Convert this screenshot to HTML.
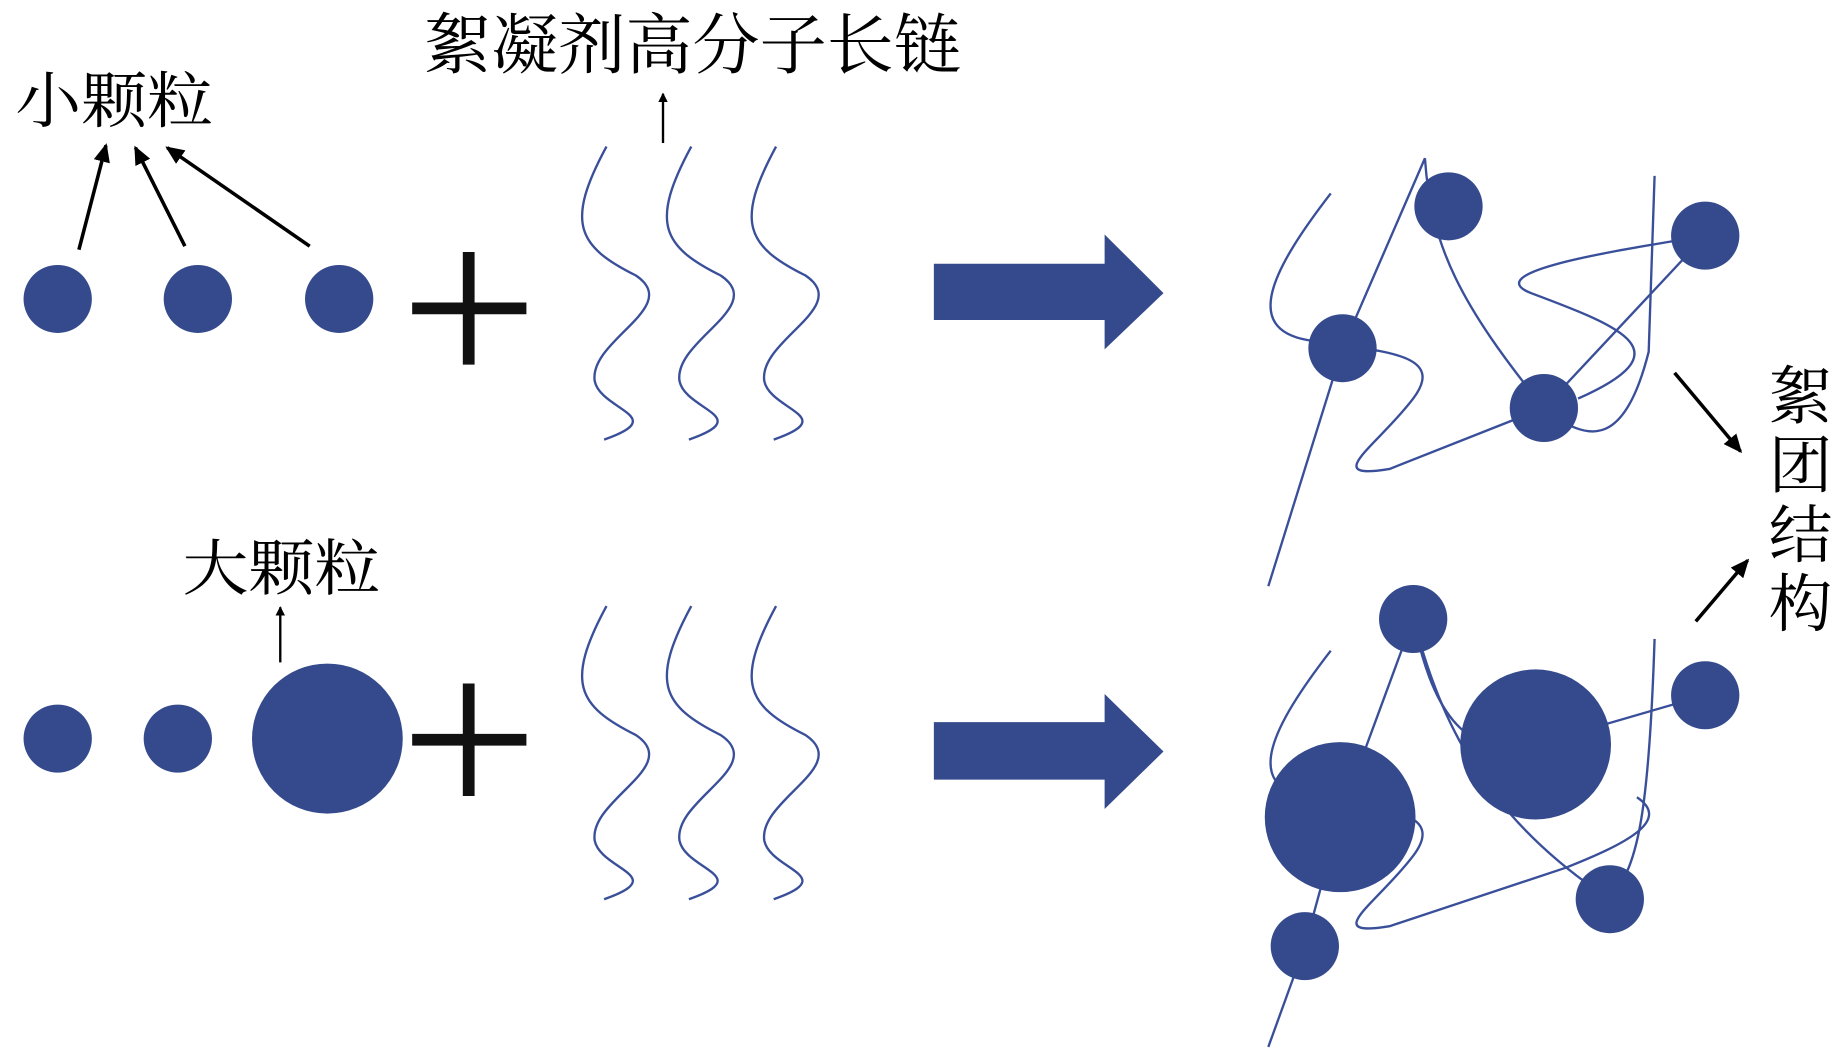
<!DOCTYPE html>
<html><head><meta charset="utf-8"><style>
html,body{margin:0;padding:0;background:#fff;}
svg{display:block}
text{font-family:"Liberation Serif","Noto Serif CJK SC","Noto Sans CJK SC",serif;fill:#000}
</style></head><body>
<svg width="1843" height="1061" viewBox="0 0 1565 905" preserveAspectRatio="none" xmlns="http://www.w3.org/2000/svg">
<defs>
<marker id="ah" markerWidth="8" markerHeight="8" refX="7" refY="4" orient="auto" markerUnits="userSpaceOnUse"><path d="M0,0 L8,4 L0,8 Z" fill="#000"/></marker>
<marker id="ah2" markerWidth="16" markerHeight="14" refX="14" refY="7" orient="auto" markerUnits="userSpaceOnUse"><path d="M0,0 L16,7 L0,14 Z" fill="#000"/></marker>
<g id="wave"><path d="M515,125 C480,190 490,210 540,235 C580,262 500,290 505,325 C510,350 570,355 513,375" fill="none" stroke="#3a4f9a" stroke-width="2"/></g>
</defs>
<g fill="#344a8c">
<circle cx="49" cy="255" r="29"/><circle cx="168" cy="255" r="29"/><circle cx="288" cy="255" r="29"/>
<circle cx="49" cy="630" r="29"/><circle cx="151" cy="630" r="29"/><circle cx="278" cy="630" r="64"/>
</g>
<g stroke="#111" stroke-width="10">
<line x1="350" y1="263" x2="447" y2="263"/><line x1="398" y1="215" x2="398" y2="311"/>
<line x1="350" y1="631" x2="447" y2="631"/><line x1="398" y1="583" x2="398" y2="679"/>
</g>
<text x="13" y="104" font-size="52" textLength="168" lengthAdjust="spacingAndGlyphs">小颗粒</text>
<text x="360" y="58" font-size="56" textLength="456" lengthAdjust="spacingAndGlyphs">絮凝剂高分子长链</text>
<text x="155" y="503" font-size="52" textLength="168" lengthAdjust="spacingAndGlyphs">大颗粒</text>
<g font-size="54"><text x="1502" y="357">絮</text><text x="1502" y="416">团</text><text x="1502" y="475">结</text><text x="1502" y="534">构</text></g>
<g stroke="#000" stroke-width="3" fill="none">
<line x1="67" y1="213" x2="90" y2="124" marker-end="url(#ah2)"/>
<line x1="157" y1="210" x2="115" y2="126" marker-end="url(#ah2)"/>
<line x1="263" y1="210" x2="142" y2="126" marker-end="url(#ah2)"/>
<line x1="1422" y1="318" x2="1478" y2="385" marker-end="url(#ah2)"/>
<line x1="1440" y1="530" x2="1484" y2="478" marker-end="url(#ah2)"/>
<line x1="563" y1="122" x2="563" y2="80" stroke-width="2" marker-end="url(#ah)"/>
<line x1="238" y1="565" x2="238" y2="518" stroke-width="2" marker-end="url(#ah)"/>
</g>
<use href="#wave"/><use href="#wave" x="72"/><use href="#wave" x="144"/>
<use href="#wave" y="392"/><use href="#wave" x="72" y="392"/><use href="#wave" x="144" y="392"/>
<g fill="#344a8c">
<path d="M793,225 H938 V200 L988,250 L938,298 V273 H793 Z"/>
<path d="M793,616 H938 V592 L988,641 L938,690 V665 H793 Z"/>
</g>
<g fill="none" stroke="#3a4f9a" stroke-width="2">
<path d="M1130,165 C1080,230 1055,280 1110,290 C1170,300 1230,300 1200,340 C1170,380 1120,410 1180,400 L1311,348 L1448,201"/>
<path d="M1077,500 L1140,297 L1210,135 C1215,210 1240,260 1311,348 C1350,380 1380,380 1400,300 L1405,150"/>
<path d="M1448,201 C1400,210 1250,230 1300,250 C1380,280 1430,300 1340,340"/>
<path d="M1130,555 C1080,620 1055,670 1110,680 C1170,690 1230,690 1200,730 C1170,770 1120,800 1180,790 L1330,740 C1380,720 1420,700 1390,680"/>
<path d="M1077,893 L1108,807 L1138,697 L1200,528 C1215,600 1240,650 1304,635 L1448,593"/>
<path d="M1200,528 C1220,600 1250,690 1367,767 C1390,740 1400,700 1405,545"/>
</g>
<g fill="#344a8c">
<circle cx="1230" cy="176" r="29"/><circle cx="1448" cy="201" r="29"/><circle cx="1140" cy="297" r="29"/><circle cx="1311" cy="348" r="29"/>
<circle cx="1200" cy="528" r="29"/><circle cx="1448" cy="593" r="29"/><circle cx="1138" cy="697" r="64"/><circle cx="1304" cy="635" r="64"/><circle cx="1367" cy="767" r="29"/><circle cx="1108" cy="807" r="29"/>
</g>
</svg>
</body></html>
